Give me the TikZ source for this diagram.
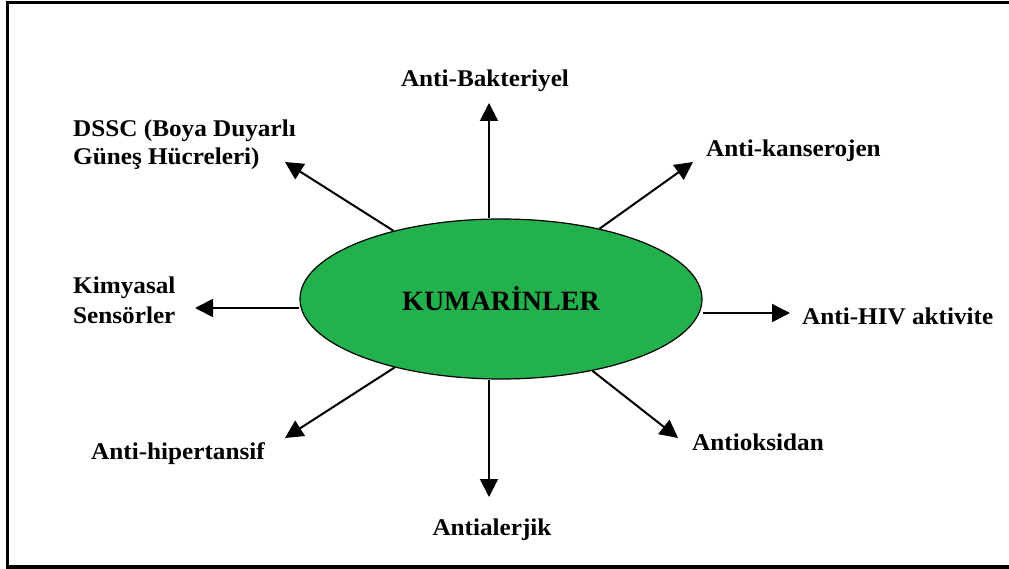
\documentclass[tikz,border=0pt]{standalone}
\usepackage{fontspec}
\setmainfont{Liberation Serif}
\newfontfamily\lblfont{Liberation Serif}[FakeStretch=1.05]
\usetikzlibrary{arrows.meta,shapes.geometric}
\definecolor{kumgreen}{RGB}{34, 177, 76}

\begin{document}
\begin{tikzpicture}[x=1pt, y=-1pt,
		lbl/.style={inner sep=0pt, font=\lblfont\bfseries\fontsize{24}{28}\selectfont},
		arr/.style={line width=2pt, -{Triangle[length=18pt, width=18pt]}}]
		\useasboundingbox (0,0) rectangle (1009,569);
		\draw[line width=3.5pt] (1015,2.5) -- (7.5,2.5) -- (7.5,567) -- (1015,567);
		% center
		\node[ellipse, draw, line width=1.2pt, fill=kumgreen, minimum width=402pt, minimum height=160pt, inner sep=0pt,
			font=\bfseries\fontsize{28}{30}\selectfont] (kum) at (501,299) {KUMAR\.INLER};
		% labels
		\node[lbl, anchor=base] (bak) at (485,87) {Anti-Bakteriyel};
		\node[lbl, anchor=base west] (kan) at (706,157) {Anti-kanserojen};
		\node[lbl, anchor=base west] (hiv) at (802,324) {Anti-HIV aktivite};
		\node[lbl, anchor=base west] (oks) at (692,450) {Antioksidan};
		\node[lbl, anchor=base] (alr) at (492,535) {Antialerjik};
		\node[lbl, anchor=base west] (hip) at (91,459) {Anti-hipertansif};
		\node[lbl, anchor=west, align=left] (kim) at (73,300) {Kimyasal\\[2pt]Sensörler};
		\node[lbl, anchor=west, align=left] (dssc) at (73,145) {DSSC (Boya Duyarlı\\Güneş Hücreleri)};
		% arrow tips
		\coordinate (tbak) at (489,103);
		\coordinate (tkan) at (693,162);
		\coordinate (thiv) at (790,313);
		\coordinate (toks) at (678,438);
		\coordinate (talr) at (489,497);
		\coordinate (thip) at (285,438);
		\coordinate (tkim) at (195,308);
		\coordinate (tdssc) at (285,162);
		% arrows
		\draw[arr] (kum.north -| tbak) -- (tbak);
		\draw[arr] (kum) -- (tkan);
		\draw[arr] (kum.east |- thiv) -- (thiv);
		\draw[arr] (kum) -- (toks);
		\draw[arr] (kum.south -| talr) -- (talr);
		\draw[arr] (kum) -- (thip);
		\draw[arr] (kum.west |- tkim) -- (tkim);
		\draw[arr] (kum) -- (tdssc);
	\end{tikzpicture}
\end{document}
